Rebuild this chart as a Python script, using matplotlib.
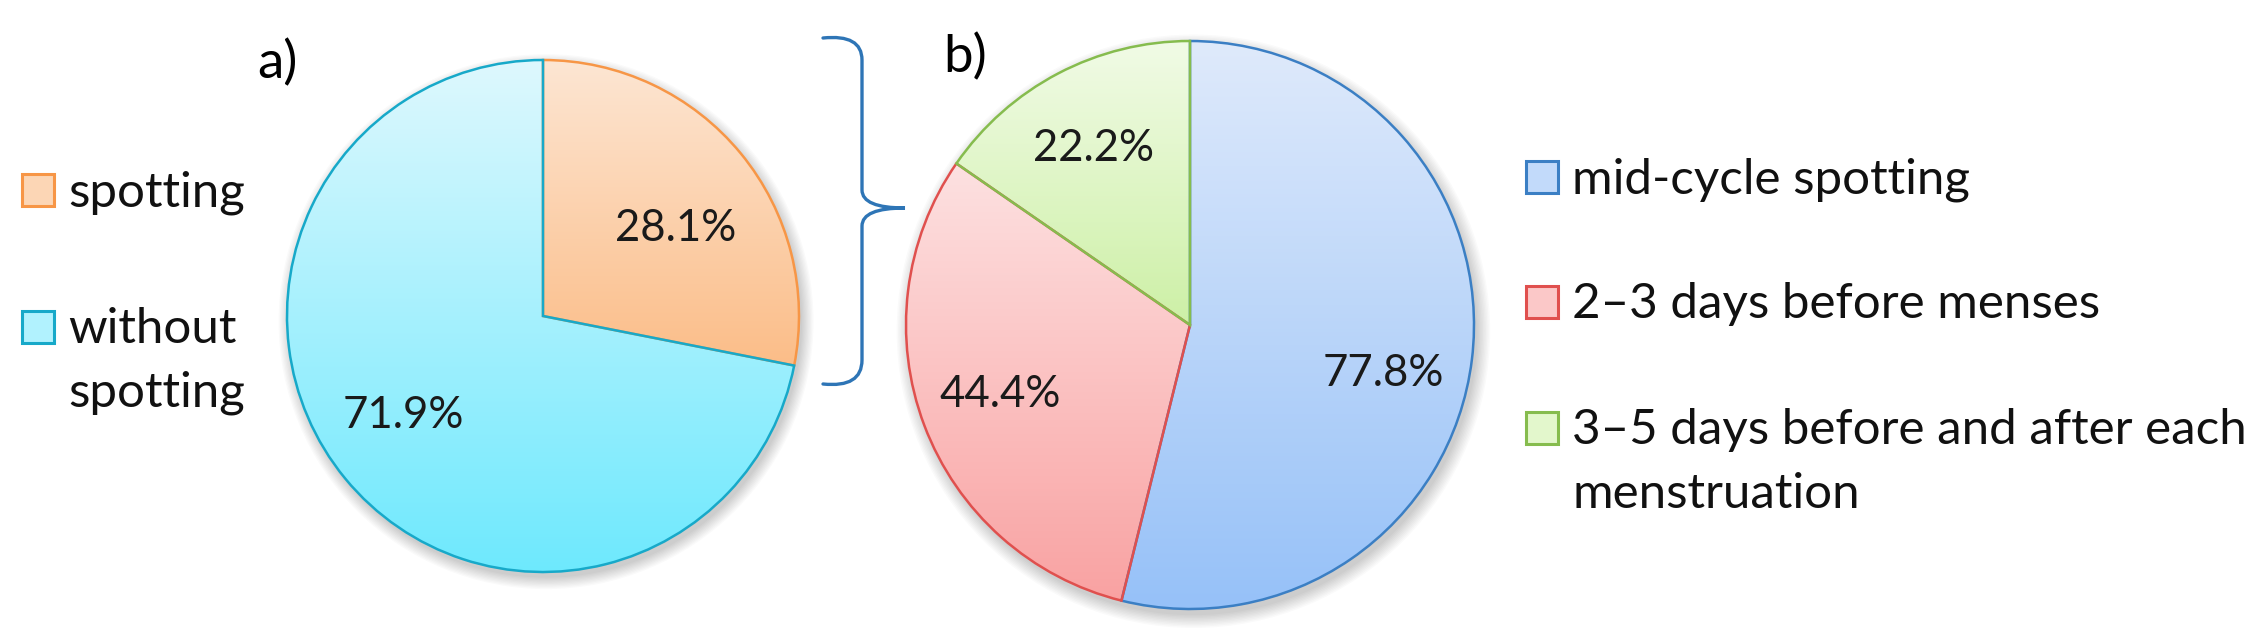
import numpy as np
import matplotlib.pyplot as plt
from matplotlib.colors import LinearSegmentedColormap
from matplotlib.font_manager import FontProperties
from matplotlib.patches import Circle, PathPatch, Rectangle
from matplotlib.path import Path

plt.rcParams['font.family'] = ['Lato', 'DejaVu Sans']

# a) all women
labels_a = ['spotting', 'without\nspotting']
values_a = [28.1, 71.9]

# b) timing of spotting (multiple answers, so the shares add up past 100)
labels_b = ['mid-cycle spotting', '2\u20133 days before menses',
            '3\u20135 days before and after each\nmenstruation']
values_b = [77.8, 44.4, 22.2]

# Excel-like gradient fills (top, bottom) and outline colours
grad_a = [('#fde6d3', '#fbbd88'), ('#def8fe', '#6ee9fd')]
edge_a = ['#f79646', '#17a9c9']
grad_b = [('#dfeafb', '#96c1f8'), ('#fde1e1', '#f9a2a2'), ('#f1fbe6', '#cdf0a6')]
edge_b = ['#3b7fc4', '#e0504e', '#86bc4e']

# where the % labels sit: radius (fraction of pie) and angle nudge (deg)
lab_r_a, lab_dt_a = [0.62, 0.67], [-6, -4]
lab_r_b, lab_dt_b = [0.70, 0.71, 0.71], [-7, -0.6, 1]

W, H = 2252, 628
fig = plt.figure(figsize=(W / 100, H / 100), dpi=100)

LEG_FS = 35.5
PCT_FS = 31.5
LINESP = 1.55


def px_axes(cx, cy, r):
    # square axes around a pie centre given in pixels
    return fig.add_axes([(cx - r) / W, (H - cy - r) / H, 2 * r / W, 2 * r / H])


def gradient_pie(ax, values, grads, edges, lab_r, lab_dt):
    # soft drop shadow
    for i in range(10):
        ax.add_patch(Circle((0.012, -0.022), 1.0 + 0.005 * i, color='black',
                            alpha=0.02, lw=0, zorder=0, clip_on=False))
    wedges, texts = ax.pie(values, labels=[f'{v}%' for v in values],
                           startangle=90, counterclock=False,
                           wedgeprops=dict(linewidth=1.8),
                           textprops=dict(fontsize=PCT_FS, color='#1a1a1a',
                                          ha='center', va='center'))
    grad = np.linspace(0, 1, 256).reshape(-1, 1)
    for w, (c0, c1), ec in zip(wedges, grads, edges):
        cmap = LinearSegmentedColormap.from_list('g', [c0, c1])
        bb = w.get_path().get_extents()
        im = ax.imshow(grad, cmap=cmap, extent=[bb.x0, bb.x1, bb.y0, bb.y1],
                       origin='upper', aspect='auto', zorder=1)
        im.set_clip_path(w)
        w.set_facecolor('none')
        w.set_edgecolor(ec)
        w.set_zorder(2)
    for w, t, r, dt in zip(wedges, texts, lab_r, lab_dt):
        ang = np.deg2rad((w.theta1 + w.theta2) / 2 + dt)
        t.set_position((r * np.cos(ang), r * np.sin(ang)))
        t.set_zorder(3)
    ax.set_xlim(-1, 1)
    ax.set_ylim(-1, 1)
    ax.set_axis_off()
    return wedges


ax_a = px_axes(543, 316, 256)
gradient_pie(ax_a, values_a, grad_a, edge_a, lab_r_a, lab_dt_a)

ax_b = px_axes(1190, 325, 284)
gradient_pie(ax_b, values_b, grad_b, edge_b, lab_r_b, lab_dt_b)

# ascent of a text line, so multi-line labels can hang from their first baseline
renderer = fig.canvas.get_renderer()
_, lp_h, lp_d = renderer.get_text_width_height_descent(
    'lp', FontProperties(family=['Lato', 'DejaVu Sans'], size=LEG_FS), ismath=False)
ASC = lp_h - lp_d


# legends (Excel style: key square sits on the first line of the label)
def mid(c):
    return LinearSegmentedColormap.from_list('m', list(c))(0.4)


def key_legend(x, baselines, labels, grads, edges, box=32, gap=14):
    for yb, lab, g, e in zip(baselines, labels, grads, edges):
        fig.add_artist(Rectangle((x / W, 1 - yb / H), box / W, box / H,
                                 transform=fig.transFigure, facecolor=mid(g),
                                 edgecolor=e, lw=2.2))
        fig.text((x + box + gap) / W, 1 - (yb - ASC) / H, lab, fontsize=LEG_FS,
                 ha='left', va='top', linespacing=LINESP, color='#111111')


key_legend(22, [206, 343], labels_a, grad_a, edge_a)
key_legend(1526, [193, 318, 444], labels_b, grad_b, edge_b)

# panel letters
fig.text(277 / W, 1 - 63 / H, 'a)', fontsize=38, ha='center', va='center')
fig.text(965 / W, 1 - 57 / H, 'b)', fontsize=38, ha='center', va='center')

# curly brace linking the spotting slice to panel b
pts = [(823, 38), (862, 34), (862, 60), (862, 190), (862, 208), (905, 208),
       (862, 208), (862, 226), (862, 360), (862, 388), (823, 384)]
codes = [Path.MOVETO, Path.CURVE3, Path.CURVE3, Path.LINETO, Path.CURVE3,
         Path.CURVE3, Path.CURVE3, Path.CURVE3, Path.LINETO, Path.CURVE3, Path.CURVE3]
brace = Path([(x / W, 1 - y / H) for x, y in pts], codes)
fig.add_artist(PathPatch(brace, transform=fig.transFigure, fill=False,
                         edgecolor='#2e75b6', lw=2.4, capstyle='round'))

fig.savefig('out.png', dpi=100, facecolor='white')
